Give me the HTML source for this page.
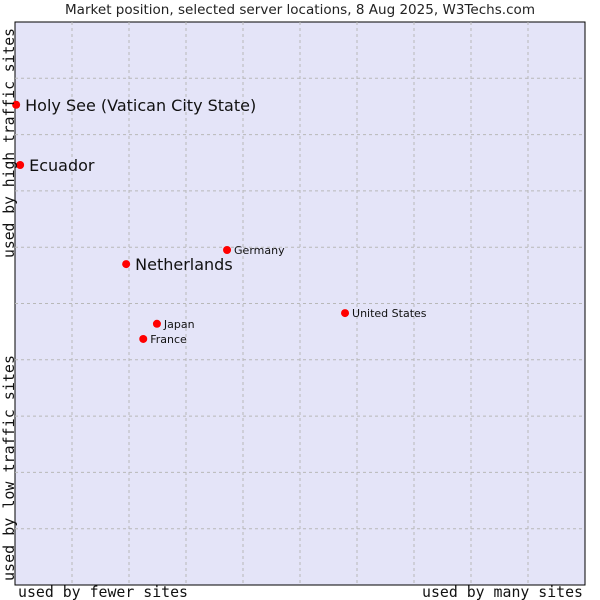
<!DOCTYPE html>
<html><head><meta charset="utf-8"><style>
body{margin:0;background:#fff;width:600px;height:600px;overflow:hidden}
svg{display:block}
</style></head><body>
<svg id="chart" width="600" height="600" xmlns="http://www.w3.org/2000/svg">
<text x="300" y="14" text-anchor="middle" font-family="DejaVu Sans, sans-serif" font-size="13" fill="#222" textLength="470" lengthAdjust="spacingAndGlyphs">Market position, selected server locations, 8 Aug 2025, W3Techs.com</text>
<rect x="15" y="22" width="570" height="563" fill="#e4e4f8" stroke="#000" stroke-width="1"/>
<g id="grid"></g>
<g id="points"></g>
<text transform="translate(14,143) rotate(-90)" text-anchor="middle" font-family="DejaVu Sans Mono, monospace" font-size="15" fill="#111" textLength="230" lengthAdjust="spacingAndGlyphs">used by high traffic sites</text>
<text transform="translate(14,468) rotate(-90)" text-anchor="middle" font-family="DejaVu Sans Mono, monospace" font-size="15" fill="#111" textLength="226" lengthAdjust="spacingAndGlyphs">used by low traffic sites</text>
<text x="18" y="597" font-family="DejaVu Sans Mono, monospace" font-size="15" fill="#111" textLength="170" lengthAdjust="spacingAndGlyphs">used by fewer sites</text>
<text x="422" y="597" font-family="DejaVu Sans Mono, monospace" font-size="15" fill="#111" textLength="161" lengthAdjust="spacingAndGlyphs">used by many sites</text>
</svg>
<script>
const countries=["Holy See (Vatican City State)","Ecuador","Netherlands","Germany","United States","Japan","France"];
const xValues=[0.2,0.9,19.5,37.2,57.9,24.9,22.5];
const yValues=[85.3,74.6,57.0,59.5,48.3,46.4,43.7];
const highlighted=[true,true,true,false,false,false,false];
const NS="http://www.w3.org/2000/svg";
const L=15,T=22,W=570,H=563;
const xs=v=>L+v/100*W, ys=v=>T+H-v/100*H;
const grid=document.getElementById('grid');
for(let i=1;i<10;i++){
  const v=document.createElementNS(NS,'line');
  
  
  const x=L+i*57;
  v.setAttribute('x1',x);v.setAttribute('x2',x);v.setAttribute('y1',T);v.setAttribute('y2',T+H);
  v.setAttribute('stroke','#b8b8b8');v.setAttribute('stroke-dasharray','3,3');grid.appendChild(v);
  const h=document.createElementNS(NS,'line');
  
  
  const y=T+i*56.3;
  h.setAttribute('x1',L);h.setAttribute('x2',L+W);h.setAttribute('y1',y);h.setAttribute('y2',y);
  h.setAttribute('stroke','#b8b8b8');h.setAttribute('stroke-dasharray','3,3');grid.appendChild(h);
}
const pts=document.getElementById('points');
countries.forEach((c,i)=>{
  const x=xs(xValues[i]),y=ys(yValues[i]);
  const d=document.createElementNS(NS,'circle');
  
  
  d.setAttribute('cx',x);d.setAttribute('cy',y);d.setAttribute('r',4);d.setAttribute('fill','#f00');
  pts.appendChild(d);
  const t=document.createElementNS(NS,'text');
  
  
  const big=highlighted[i];
  t.setAttribute('x',x+(big?9:7));t.setAttribute('y',y+(big?6:4));
  t.setAttribute('font-family','DejaVu Sans, sans-serif');
  t.setAttribute('font-size',big?16:11);t.setAttribute('fill','#111');
  t.textContent=c;pts.appendChild(t);
});
</script>
</body></html>
